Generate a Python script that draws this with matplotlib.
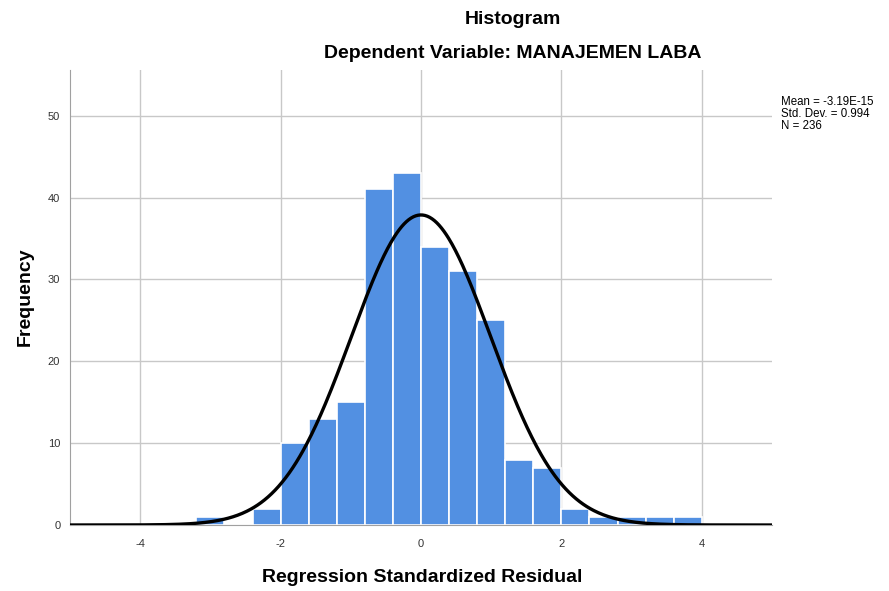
import numpy as np
import matplotlib
matplotlib.use("Agg")
import matplotlib.pyplot as plt

plt.rcParams['font.family'] = ['Liberation Sans', 'DejaVu Sans']
plt.rcParams['axes.unicode_minus'] = False

# Data
bin_edges = [-3.2, -2.8, -2.4, -2.0, -1.6, -1.2, -0.8, -0.4, 0.0, 0.4, 0.8,
             1.2, 1.6, 2.0, 2.4, 2.8, 3.2, 3.6, 4.0]
counts = [1, 0, 2, 10, 13, 15, 41, 43, 34, 31, 25, 8, 7, 2, 1, 1, 1, 1]
mean = -3.19e-15
std = 0.994
n = 236
xticks = [-4, -2, 0, 2, 4]
yticks = [0, 10, 20, 30, 40, 50]

fig = plt.figure(figsize=(8.89, 5.91), dpi=100)
ax = fig.add_axes([70/889, 1-525/591, (772-70)/889, (525-70)/591])

edges = np.array(bin_edges)
widths = np.diff(edges)
ax.bar(edges[:-1], counts, width=widths, align='edge', color='#5290E2',
       edgecolor='white', linewidth=1.2, zorder=2)

bw = widths[0]
xs = np.linspace(-5, 5, 600)
ys = n * bw / (std * np.sqrt(2*np.pi)) * np.exp(-0.5*((xs-mean)/std)**2)
ax.plot(xs, ys, color='black', linewidth=2.4, zorder=3)

ax.set_xlim(-5, 5)
ax.set_ylim(0, 55.6)
ax.set_xticks(xticks)
ax.set_yticks(yticks)
ax.grid(True, color='#c8c8c8', linewidth=1.0, zorder=0)
ax.set_axisbelow(True)
for s in ['top', 'right']:
    ax.spines[s].set_visible(False)
ax.spines['left'].set_color('#a0a0a0')
ax.spines['bottom'].set_color('#a0a0a0')
ax.tick_params(axis='both', length=0, labelsize=8, colors='#333333')
ax.tick_params(axis='x', pad=10)
ax.tick_params(axis='y', pad=7)

fig.text(513/889, 1-19/591, 'Histogram', ha='center', va='center',
         fontsize=14, fontweight='bold')
fig.text(513/889, 1-54/591, 'Dependent Variable: MANAJEMEN LABA', ha='center',
         va='center', fontsize=14, fontweight='bold')
fig.text(422/889, 1-578/591, 'Regression Standardized Residual', ha='center',
         va='center', fontsize=14, fontweight='bold')
fig.text(25/889, 1-297/591, 'Frequency', ha='center', va='center',
         rotation=90, fontsize=14, fontweight='bold')

stats = ['Mean = %.2E' % mean, 'Std. Dev. = %.3f' % std, 'N = %d' % n]
for i, s in enumerate(stats):
    fig.text(781/889, 1-(102 + 12*i)/591, s, ha='left', va='center',
             fontsize=8.3)

fig.savefig('out.png', dpi=100)
